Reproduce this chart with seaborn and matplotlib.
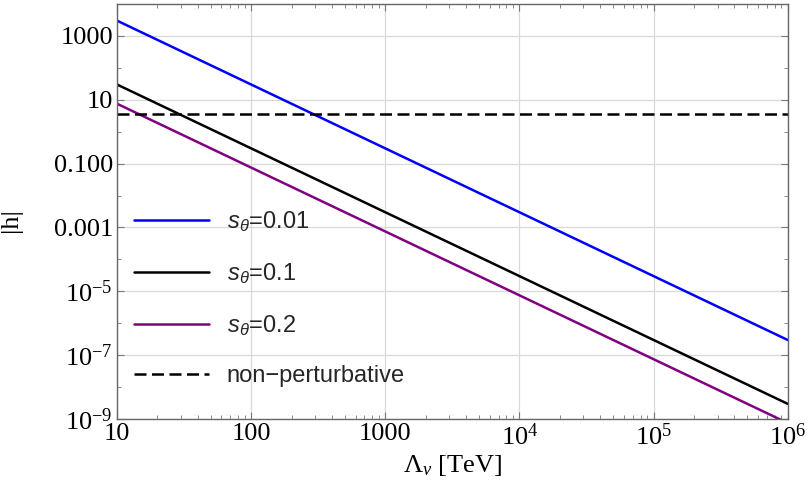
import matplotlib
matplotlib.use("Agg")
import matplotlib.pyplot as plt
import seaborn as sns
import pandas as pd
from matplotlib.ticker import FixedLocator, FixedFormatter, NullFormatter
from matplotlib.lines import Line2D

# Data: straight lines on log-log axes
lam = [10, 1e6]
h_s001 = [3000, 3e-7]
h_s01 = [30, 3e-9]
h_s02 = [7.5, 7.5e-10]
h_nonpert = [3.5, 3.5]

labels = [r"$\mathsf{s_\theta}$=0.01", r"$\mathsf{s_\theta}$=0.1", r"$\mathsf{s_\theta}$=0.2",
          "non\u2212perturbative"]
colors = ["#0000FF", "#000000", "#800080", "#000000"]

xticks = [10, 100, 1000, 1e4, 1e5, 1e6]
xticklabels = ["10", "100", "1000", r"$10^4$", r"$10^5$", r"$10^6$"]
yticks = [1e3, 1e1, 1e-1, 1e-3, 1e-5, 1e-7, 1e-9]
yticklabels = ["1000", "10", "0.100", "0.001", r"$10^{-5}$", r"$10^{-7}$", r"$10^{-9}$"]

sns.set_theme(style="white")
plt.rcParams["font.family"] = ["Liberation Serif", "DejaVu Serif"]
plt.rcParams["mathtext.fontset"] = "custom"
plt.rcParams["mathtext.rm"] = "Liberation Serif"
plt.rcParams["mathtext.it"] = "Liberation Serif:italic"
plt.rcParams["mathtext.sf"] = "Liberation Sans:italic"

df = pd.concat([
    pd.DataFrame({"x": lam, "y": h_s001, "series": labels[0]}),
    pd.DataFrame({"x": lam, "y": h_s01, "series": labels[1]}),
    pd.DataFrame({"x": lam, "y": h_s02, "series": labels[2]}),
])
df_np = pd.DataFrame({"x": lam, "y": h_nonpert, "series": labels[3]})

fig = plt.figure(figsize=(8.07, 4.93), dpi=100)
ax = fig.add_axes([0.145, 0.150, 0.831, 0.842])

ax.set_xscale("log")
ax.set_yscale("log")

LW = 1.8
DASH = (0, (4.8, 2.2))
sns.lineplot(data=df, x="x", y="y", hue="series", palette=colors[:3],
             linewidth=LW, ax=ax, legend=False)
sns.lineplot(data=df_np, x="x", y="y", color="black", linestyle=DASH,
             linewidth=LW, ax=ax, legend=False)

ax.set_xlim(10, 1e6)
ax.set_ylim(1e-9, 1e4)

ax.xaxis.set_major_locator(FixedLocator(xticks))
ax.xaxis.set_major_formatter(FixedFormatter(xticklabels))
ax.yaxis.set_major_locator(FixedLocator(yticks))
ax.yaxis.set_major_formatter(FixedFormatter(yticklabels))
xminor = [m * 10**e for e in range(1, 6) for m in range(2, 10)]
ax.xaxis.set_minor_locator(FixedLocator(xminor))
ax.xaxis.set_minor_formatter(NullFormatter())
yminor = [10.0**e for e in range(-8, 5, 2)]
ax.yaxis.set_minor_locator(FixedLocator(yminor))
ax.yaxis.set_minor_formatter(NullFormatter())

ax.grid(True, which="major", color="#d9d9d9", linewidth=0.9)
ax.tick_params(which="both", direction="in", bottom=True, left=True, top=True, right=True,
               color="#777777", labelsize=19, labelcolor="black")
ax.tick_params(which="major", length=5, width=0.8, pad=3)
ax.tick_params(which="minor", length=3, width=0.6)
for s in ax.spines.values():
    s.set_color("#666666")
    s.set_linewidth(1.0)

ax.set_xlabel(r"$\Lambda_\nu$ [TeV]", fontsize=19, color="black")
ax.xaxis.set_label_coords(0.5, -0.082)
ax.set_ylabel("|h|", fontsize=19, color="black")
ax.yaxis.set_label_coords(-0.141, 0.48)

handles = [Line2D([], [], color=colors[0], lw=LW),
           Line2D([], [], color=colors[1], lw=LW),
           Line2D([], [], color=colors[2], lw=LW),
           Line2D([], [], color=colors[3], lw=LW, linestyle=DASH)]
leg = ax.legend(handles, labels, loc="upper left", bbox_to_anchor=(0.0, 0.546),
                frameon=False, handlelength=3.2, handletextpad=0.75,
                labelspacing=1.15, borderaxespad=0.3,
                prop={"family": ["Liberation Sans", "DejaVu Sans"], "size": 17})

fig.savefig("out.png", dpi=100)
